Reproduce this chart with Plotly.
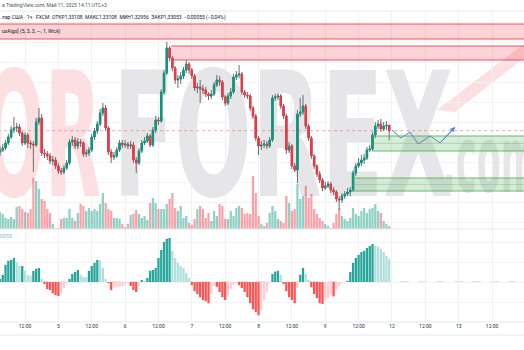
import plotly.graph_objects as go

# ---------------- data (GBP/USD, 1h, FXCM) ----------------
tick_idx = [9, 21, 33, 45, 57, 69, 81, 93, 105, 117, 129, 141, 153, 165, 177]
tick_text = ["12:00", "5", "12:00", "6", "12:00", "7", "12:00", "8", "12:00",
             "9", "12:00", "12", "12:00", "13", "12:00"]

first_open = 1.3284
close = [1.3286, 1.3288, 1.3293, 1.3299, 1.3306, 1.3308, 1.3309, 1.3303, 1.3293, 1.3301,
         1.3293, 1.3292, 1.3291, 1.3314, 1.3318, 1.3283, 1.3282, 1.3280, 1.3275, 1.3276,
         1.3270, 1.3265, 1.3264, 1.3268, 1.3273, 1.3294, 1.3296, 1.3290, 1.3294, 1.3293,
         1.3282, 1.3283, 1.3286, 1.3299, 1.3305, 1.3312, 1.3323, 1.3328, 1.3308, 1.3284,
         1.3279, 1.3280, 1.3286, 1.3293, 1.3291, 1.3292, 1.3290, 1.3291, 1.3276, 1.3273,
         1.3285, 1.3293, 1.3295, 1.3300, 1.3291, 1.3306, 1.3316, 1.3315, 1.3344, 1.3363,
         1.3388, 1.3378, 1.3368, 1.3356, 1.3357, 1.3360, 1.3366, 1.3372, 1.3366, 1.3360,
         1.3348, 1.3349, 1.3347, 1.3346, 1.3342, 1.3340, 1.3342, 1.3351, 1.3356, 1.3354,
         1.3339, 1.3333, 1.3340, 1.3344, 1.3359, 1.3361, 1.3362, 1.3344, 1.3341, 1.3340,
         1.3328, 1.3320, 1.3298, 1.3290, 1.3291, 1.3292, 1.3290, 1.3296, 1.3338, 1.3339,
         1.3340, 1.3330, 1.3320, 1.3286, 1.3290, 1.3270, 1.3266, 1.3322, 1.3324, 1.3330,
         1.3310, 1.3298, 1.3280, 1.3270, 1.3262, 1.3256, 1.3248, 1.3250, 1.3252, 1.3246,
         1.3244, 1.3237, 1.3236, 1.3240, 1.3242, 1.3244, 1.3246, 1.3263, 1.3270, 1.3273,
         1.3276, 1.3278, 1.3286, 1.3287, 1.3301, 1.3310, 1.3312, 1.3307, 1.3310, 1.33108,
         1.33053]
high = [1.3290, 1.3292, 1.3296, 1.3302, 1.3310, 1.3319, 1.3313, 1.3312, 1.3305, 1.3304,
        1.3303, 1.3296, 1.3295, 1.3318, 1.3328, 1.3322, 1.3287, 1.3285, 1.3283, 1.3280,
        1.3279, 1.3273, 1.3268, 1.3271, 1.3276, 1.3297, 1.3300, 1.3299, 1.3298, 1.3297,
        1.3295, 1.3287, 1.3289, 1.3302, 1.3308, 1.3315, 1.3327, 1.3333, 1.3331, 1.3310,
        1.3287, 1.3284, 1.3289, 1.3296, 1.3296, 1.3296, 1.3294, 1.3295, 1.3294, 1.3279,
        1.3288, 1.3296, 1.3299, 1.3303, 1.3302, 1.3309, 1.3320, 1.3319, 1.3347, 1.3366,
        1.3394, 1.3390, 1.3380, 1.3370, 1.3361, 1.3364, 1.3369, 1.3376, 1.3374, 1.3368,
        1.3362, 1.3353, 1.3356, 1.3351, 1.3349, 1.3344, 1.3346, 1.3354, 1.3361, 1.3360,
        1.3356, 1.3341, 1.3343, 1.3348, 1.3362, 1.3365, 1.3371, 1.3364, 1.3346, 1.3344,
        1.3342, 1.3330, 1.3322, 1.3300, 1.3295, 1.3296, 1.3295, 1.3299, 1.3341, 1.3342,
        1.3343, 1.3342, 1.3332, 1.3322, 1.3294, 1.3292, 1.3273, 1.3326, 1.3338, 1.3341,
        1.3332, 1.3312, 1.3300, 1.3282, 1.3272, 1.3265, 1.3258, 1.3254, 1.3255, 1.3254,
        1.3249, 1.3246, 1.3240, 1.3243, 1.3245, 1.3248, 1.3249, 1.3266, 1.3273, 1.3278,
        1.3281, 1.3282, 1.3289, 1.3291, 1.3304, 1.3314, 1.3316, 1.3317, 1.3314, 1.3315,
        1.33108]
low = [1.3280, 1.3284, 1.3286, 1.3291, 1.3297, 1.3303, 1.3304, 1.3300, 1.3290, 1.3291,
       1.3288, 1.3287, 1.3264, 1.3289, 1.3311, 1.3280, 1.3278, 1.3276, 1.3272, 1.3271,
       1.3267, 1.3262, 1.3261, 1.3262, 1.3266, 1.3271, 1.3290, 1.3287, 1.3287, 1.3289,
       1.3279, 1.3279, 1.3280, 1.3284, 1.3296, 1.3302, 1.3310, 1.3320, 1.3305, 1.3281,
       1.3273, 1.3276, 1.3278, 1.3284, 1.3288, 1.3288, 1.3287, 1.3287, 1.3273, 1.3263,
       1.3271, 1.3283, 1.3291, 1.3293, 1.3289, 1.3289, 1.3303, 1.3311, 1.3313, 1.3341,
       1.3361, 1.3375, 1.3365, 1.3352, 1.3348, 1.3352, 1.3357, 1.3363, 1.3362, 1.3357,
       1.3345, 1.3343, 1.3333, 1.3342, 1.3339, 1.3336, 1.3337, 1.3340, 1.3349, 1.3350,
       1.3336, 1.3330, 1.3331, 1.3337, 1.3342, 1.3356, 1.3358, 1.3341, 1.3338, 1.3337,
       1.3325, 1.3317, 1.3295, 1.3281, 1.3286, 1.3288, 1.3287, 1.3288, 1.3294, 1.3335,
       1.3336, 1.3327, 1.3317, 1.3282, 1.3283, 1.3267, 1.3264, 1.3253, 1.3319, 1.3321,
       1.3307, 1.3295, 1.3277, 1.3267, 1.3259, 1.3253, 1.3245, 1.3246, 1.3248, 1.3243,
       1.3241, 1.3234, 1.3226, 1.3233, 1.3237, 1.3240, 1.3240, 1.3244, 1.3260, 1.3268,
       1.3270, 1.3272, 1.3276, 1.3284, 1.3285, 1.3298, 1.3307, 1.3304, 1.3305, 1.3306,
       1.32956]
volume = [1700, 1500, 1100, 1000, 1200, 1000, 2200, 2300, 2000, 1700,
          1600, 2000, 5100, 4800, 4000, 3000, 2800, 2000, 1600, 500,
          100, 100, 1000, 1100, 1100, 2000, 1100, 800, 1600, 2500,
          2300, 1800, 2100, 1800, 2000, 1800, 2500, 3600, 2600, 2000,
          1800, 1100, 1100, 1000, 500, 200, 500, 1400, 1500, 1900,
          1500, 1100, 1300, 900, 2600, 3100, 2600, 2000, 2000, 2000,
          2500, 3000, 3600, 2100, 1800, 2300, 1100, 1300, 600, 400,
          1000, 2000, 2300, 2000, 1100, 1600, 800, 1800, 1300, 2500,
          2300, 1000, 1000, 1800, 1300, 2100, 2300, 2100, 1500, 1600,
          1500, 5300, 3600, 1300, 500, 300, 600, 1600, 2300, 1800,
          1000, 800, 600, 3300, 2600, 1800, 2000, 4500, 3000, 3300,
          4300, 3100, 3500, 2000, 1500, 1100, 800, 500, 300, 100,
          600, 1500, 2100, 1300, 1000, 800, 1100, 2100, 1500, 1300,
          1800, 2100, 1600, 2000, 2100, 2500, 1800, 1600, 800, 500,
          300]
osc_e5 = [8, 18, 43, 53, 55, 60, 50, 40, 40, 28,
          18, 15, 28, 33, 35, 8, -5, -18, -20, -28,
          -33, -35, -28, -15, -3, 8, 20, 25, 30, 18,
          13, 12, 28, 40, 48, 55, 54, 35, 8, -3,
          -20, -13, -12, -11, -10, -7, -3, -10, -20, -25,
          -10, 5, 3, 10, 28, 30, 35, 60, 80, 100,
          108, 110, 78, 60, 48, 40, 35, 23, 10, -8,
          -23, -30, -38, -45, -48, -53, -30, -10, -12, -25,
          -38, -45, -33, -18, -8, -3, -8, -15, -25, -38,
          -53, -68, -75, -83, -70, -45, -25, -3, 20, 26,
          28, 18, -5, -23, -38, -45, -53, -15, 18, 35,
          20, 5, -13, -30, -40, -53, -55, -45, -40, -33,
          -36, -20, -10, -3, -1, 3, 25, 48, 60, 68,
          75, 78, 85, 90, 95, 90, 88, 83, 75, 65,
          58]

# order-block zones (price) and projection drawing
zone_top_y = [1.3397, 1.3412]
zone_b_y = [1.3376, 1.3390]
zone_c_y = [1.3285, 1.3300]
zone_d_y = [1.3245, 1.3258]
zone_b_start, zone_c_start, zone_d_start = 61.6, 134, 127
proj_x = [141.0, 144.2, 147.5, 150.4, 154.7, 158.3, 163.7]
proj_y = [1.3306, 1.3298, 1.3304, 1.3292, 1.3300, 1.3293, 1.3309]
last_price = 1.33053

# ---------------- derived ----------------
n = len(close)
idx = list(range(n))
opens = [first_open] + close[:-1]
body_hi = [max(o, c) for o, c in zip(opens, close)]
body_lo = [min(o, c) for o, c in zip(opens, close)]
osc = [v * 1e-5 for v in osc_e5]

UP = "#089981"
DN = "#f23645"
vol_col = ["rgba(8,153,129,0.45)" if c >= o else "rgba(242,54,69,0.45)"
           for o, c in zip(opens, close)]
osc_col = []
for i, v in enumerate(osc):
    p = osc[i - 1] if i else 0
    if v >= 0:
        osc_col.append("#26a69a" if v >= p else "#b2dfdb")
    else:
        osc_col.append("#ffcdd2" if v >= p else "#ff5252")

PX = 2.78  # pixels per bar, used only for decoration placement


def px2x(px):
    return px / PX


H = 350.0


def py(p):
    return 1 - p / H


fig = go.Figure()

# watermark (base subplot, drawn first -> below everything)
fig.add_trace(go.Scatter(
    x=[px2x(42), px2x(283)], y=[153, 153], text=["OR", "FOREX"], mode="text",
    textfont=dict(family="DejaVu Sans", size=173, weight="bold",
                  color=["#fcdfe0", "#e6e6e8"]),
    hoverinfo="skip", showlegend=False, xaxis="x", yaxis="y", cliponaxis=True))
fig.add_trace(go.Scatter(
    x=[px2x(490)], y=[169], text=[".com"], mode="text",
    textfont=dict(family="DejaVu Sans", size=93, weight="bold", color="#e6e6e8"),
    hoverinfo="skip", showlegend=False, xaxis="x", yaxis="y", cliponaxis=True))

# volume
fig.add_trace(go.Bar(x=idx, y=volume, marker=dict(color=vol_col, line=dict(width=0)),
                     xaxis="x", yaxis="y2", showlegend=False, hoverinfo="skip"))

# candles: wicks (gray) + bodies (colored)
fig.add_trace(go.Candlestick(
    x=idx, open=opens, high=high, low=low, close=close,
    increasing=dict(line=dict(color="#6e6e6e", width=1), fillcolor="#6e6e6e"),
    decreasing=dict(line=dict(color="#6e6e6e", width=1), fillcolor="#6e6e6e"),
    whiskerwidth=0, xaxis="x", yaxis="y3", showlegend=False, hoverinfo="skip"))
fig.add_trace(go.Candlestick(
    x=idx, open=opens, high=body_hi, low=body_lo, close=close,
    increasing=dict(line=dict(color=UP, width=1), fillcolor=UP),
    decreasing=dict(line=dict(color=DN, width=1), fillcolor=DN),
    whiskerwidth=0, xaxis="x", yaxis="y3", showlegend=False, hoverinfo="skip"))

# projection zigzag
fig.add_trace(go.Scatter(x=proj_x, y=proj_y, mode="lines",
                         line=dict(color="#4f83ea", width=1),
                         xaxis="x", yaxis="y3", showlegend=False, hoverinfo="skip"))

# oscillator
fig.add_trace(go.Bar(x=idx, y=osc, marker=dict(color=osc_col, line=dict(width=0)),
                     xaxis="x", yaxis="y4", showlegend=False, hoverinfo="skip"))

shapes = []
RED_F = "rgba(242,54,69,0.22)"
RED_L = "rgba(242,54,69,0.85)"
GRN_F = "rgba(76,175,80,0.22)"
GRN_L = "rgba(76,175,80,0.85)"

# red accent of the watermark logo
shapes.append(dict(type="path", xref="paper", yref="paper",
                   path="M {:.4f},{:.4f} L {:.4f},{:.4f} L {:.4f},{:.4f} L {:.4f},{:.4f} Z".format(
                       437 / 524, py(110), 524 / 524, py(44), 524 / 524, py(58), 455 / 524, py(112)),
                   fillcolor="#fcdfe0", line=dict(width=0), layer="below"))


def zone(x0, ys, fill, line, mid=False):
    shapes.append(dict(type="rect", xref="x", yref="y3", x0=x0, x1=200, y0=ys[0], y1=ys[1],
                       fillcolor=fill, line=dict(width=0), layer="above"))
    for yy in ys:
        shapes.append(dict(type="line", xref="x", yref="y3", x0=x0, x1=200, y0=yy, y1=yy,
                           line=dict(color=line, width=1.2), layer="above"))
    if mid:
        m = (ys[0] + ys[1]) / 2
        shapes.append(dict(type="line", xref="x", yref="y3", x0=x0, x1=200, y0=m, y1=m,
                           line=dict(color="rgba(76,175,80,0.35)", width=0.8), layer="above"))


zone(-5, zone_top_y, RED_F, RED_L)
zone(zone_b_start, zone_b_y, RED_F, RED_L)
zone(zone_c_start, zone_c_y, GRN_F, GRN_L, mid=True)
zone(zone_d_start, zone_d_y, GRN_F, GRN_L, mid=True)

# last price dotted line
shapes.append(dict(type="line", xref="x", yref="y3", x0=-5, x1=200, y0=last_price, y1=last_price,
                   line=dict(color="rgba(242,54,69,0.55)", width=0.8, dash="dot"), layer="above"))
# oscillator zero line
shapes.append(dict(type="line", xref="x", yref="y4", x0=-5, x1=200, y0=0, y1=0,
                   line=dict(color="#b2b5be", width=0.8, dash="dash"), layer="below"))
# pane borders
for yy in [11, 229, 322, 335]:
    shapes.append(dict(type="line", xref="paper", yref="paper", x0=0, x1=1, y0=py(yy), y1=py(yy),
                       line=dict(color="#e6e8ee", width=1), layer="above"))

annotations = [
    dict(text="а TradingView.com, Май 11, 2025 14:11 UTC+3", x=0, y=py(5.5),
         xref="paper", yref="paper", xanchor="left", yanchor="middle", showarrow=False,
         font=dict(family="Roboto", size=5, color="#50535e")),
    dict(text="лар США · 1ч · FXCM  ОТКР1,33108  МАКС1,33108  МИН1,32956  ЗАКР1,33053  −0,00055 (−0,04%)",
         x=0, y=py(17), xref="paper", yref="paper", xanchor="left", yanchor="middle",
         showarrow=False, font=dict(family="Roboto", size=5, color="#131722")),
    dict(text="uxAlgo] (5, 3, 3, —, 1, Wick)", x=0, y=py(32), xref="paper", yref="paper",
         xanchor="left", yanchor="middle", showarrow=False,
         font=dict(family="Roboto", size=5, color="#131722")),
    dict(text="0.00058", x=14 / 524, y=py(236), xref="paper", yref="paper", xanchor="right",
         yanchor="middle", showarrow=False, font=dict(family="Roboto", size=5, color="#80cbc4")),
    dict(text="", x=proj_x[-1], y=proj_y[-1], ax=proj_x[-2], ay=proj_y[-2], xref="x", yref="y3",
         axref="x", ayref="y3", showarrow=True, arrowhead=2, arrowsize=1, arrowwidth=1,
         arrowcolor="#4f83ea", standoff=0),
]

price_dom = [py(229), py(11)]
osc_dom = [py(322), py(229)]

fig.update_layout(
    width=524, height=350, margin=dict(l=0, r=0, t=0, b=0),
    paper_bgcolor="white", plot_bgcolor="rgba(0,0,0,0)",
    bargap=0.18, showlegend=False,
    shapes=shapes, annotations=annotations,
    xaxis=dict(domain=[0, 1], range=[0, 524 / PX], anchor="y4",
               tickmode="array", tickvals=tick_idx, ticktext=tick_text,
               showgrid=True, gridcolor="#f0f1f4", gridwidth=1, zeroline=False,
               ticks="", showline=False, rangeslider=dict(visible=False),
               tickfont=dict(family="Roboto", size=5, color="#2a2e39"), fixedrange=True),
    yaxis=dict(domain=price_dom, range=[229, 11], visible=False, fixedrange=True),
    yaxis2=dict(overlaying="y", range=[0, 21800], visible=False, fixedrange=True),
    yaxis3=dict(overlaying="y", range=[1.3207, 1.3425], showgrid=True, gridcolor="#f3f4f6",
                tick0=1.3374, dtick=0.002, showticklabels=False, zeroline=False, ticks="",
                fixedrange=True),
    yaxis4=dict(domain=osc_dom, anchor="x", range=[-0.0010, 0.001325], showgrid=True,
                gridcolor="#f3f4f6", tick0=0, dtick=0.0005, showticklabels=False,
                zeroline=False, ticks="", fixedrange=True),
)

post = """
var gd = document.getElementById('{plot_id}');
var L = {'OR': 118, 'FOREX': 340, '.com': 95};
gd.querySelectorAll('text').forEach(function(t){
  var s = t.textContent;
  if (L.hasOwnProperty(s)) {
    t.setAttribute('textLength', L[s]);
    t.setAttribute('lengthAdjust', 'spacingAndGlyphs');
  }
});
"""

fig.write_html("out.html", config={"displayModeBar": False, "staticPlot": True}, post_script=post)
